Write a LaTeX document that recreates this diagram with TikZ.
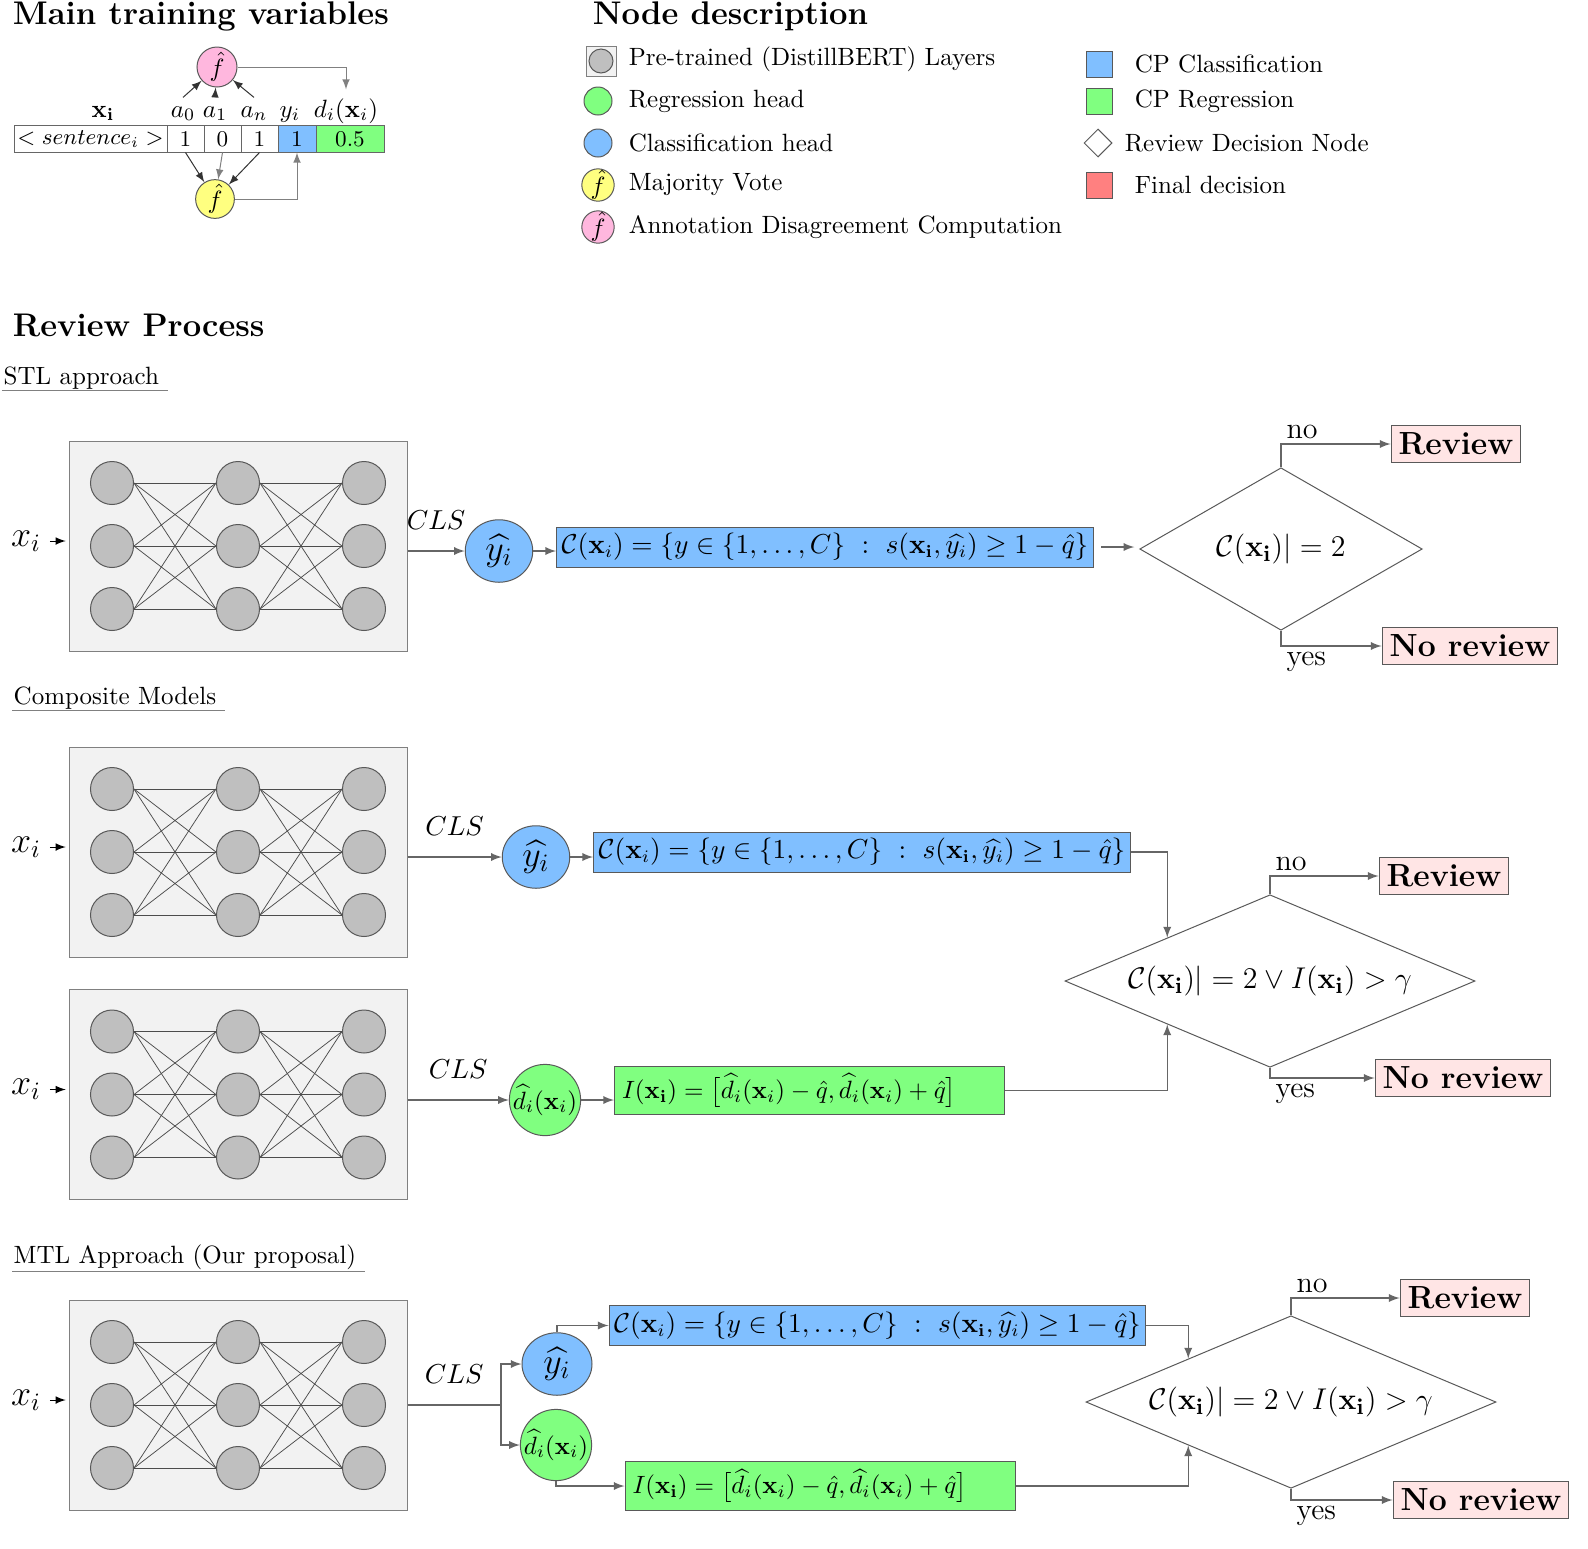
\documentclass[tikz,border=0pt]{standalone}
\usepackage{amsmath,amssymb}
\usetikzlibrary{shapes.geometric,arrows}

\definecolor{clsblue}{RGB}{128,191,255}
\definecolor{reggreen}{RGB}{128,255,128}
\definecolor{voteyellow}{RGB}{255,255,128}
\definecolor{disapink}{RGB}{255,183,222}
\definecolor{finalred}{RGB}{255,128,128}

% pre-trained layers: #1 name, #2 y of the centre
\newcommand{\bertlayers}[2]{%
	\node[netbox] (#1) at (238.5,#2) {};
	\foreach \c/\x in {1/112,2/238,3/364}
		\foreach \r/\dy in {1/-63,2/0,3/63}
			\node[neuron] (#1-\c-\r) at ({\x},{#2+(\dy)}) {};
	\foreach \i in {1,2,3}
		\foreach \j in {1,2,3} {
			\draw[link] (#1-1-\i.east) -- (#1-2-\j.west);
			\draw[link] (#1-2-\i.east) -- (#1-3-\j.west);
		}
	\node[font=\Large] (#1-in) at (26,#2-5) {$x_i$};
	\draw[->, shorten >=1.5pt] (#1-in.east) -- (#1-in.east -| #1.west);
}

\begin{document}
\begin{tikzpicture}[x=0.4pt, y=-0.4pt, >=latex,
	netbox/.style={draw=gray, fill=gray!10, minimum width=134.8pt, minimum height=84pt, inner sep=0pt},
	neuron/.style={circle, draw=gray!70!black, fill=gray!50, minimum size=17.2pt, inner sep=0pt},
	link/.style={black!70, line width=0.3pt},
	wire/.style={->, black!60, line width=0.5pt},
	cell/.style={draw=gray!80!black, minimum height=10.8pt, inner sep=0pt, outer sep=0pt, anchor=west, font=\small},
	clshead/.style={ellipse, draw=gray!70!black, fill=clsblue, minimum width=27pt, minimum height=25pt, inner sep=0pt, font=\Large},
	reghead/.style={circle, draw=gray!70!black, fill=reggreen, minimum size=28pt, inner sep=0pt},
	cpcls/.style={draw=gray!70!black, fill=clsblue, minimum width=206pt, minimum height=16pt, inner sep=2pt, font=\fontsize{10.5}{13}\selectfont},
	cpreg/.style={draw=gray!70!black, fill=reggreen, minimum height=18pt, inner sep=3pt, text width=150pt, align=left, font=\fontsize{10}{13}\selectfont},
	decision/.style={diamond, draw=gray!70!black, inner sep=0pt, font=\fontsize{12.8}{15}\selectfont},
	final/.style={draw=gray!70!black, fill=red!10, inner sep=3pt, font=\fontsize{12.8}{15}\selectfont\bfseries},
	answer/.style={text=black, inner sep=2pt, font=\large},
	clslabel/.style={text=black, midway, above=5pt, font=\fontsize{10.6}{13}\selectfont},
	section/.style={anchor=base west, font=\fontsize{13.1}{16}\selectfont\bfseries},
	subsection/.style={anchor=base west, inner sep=0.5pt}
]
\useasboundingbox (0,0) rectangle (1588,1548);

% main training variables
\node[section] (ttrain) at (4,24) {Main training variables};

\node[cell, minimum width=61.2pt] (sent) at (14,139) {$< sentence_i >$};
\node[cell, minimum width=14.8pt] (a0) at (sent.east) {1};
\node[cell, minimum width=14.8pt] (a1) at (a0.east) {0};
\node[cell, minimum width=14.8pt] (an) at (a1.east) {1};
\node[cell, minimum width=15.2pt, fill=clsblue] (ycell) at (an.east) {1};
\node[cell, minimum width=27.2pt, fill=reggreen] (dcell) at (ycell.east) {0.5};

\node[anchor=base] (lblx) at (103,117) {$\mathbf{x_i}$};
\node[anchor=base] (lbla0) at (183,117) {$a_0$};
\node[anchor=base] (lbla1) at (215,117) {$a_1$};
\node[anchor=base] (lblan) at (254,117) {$a_n$};
\node[anchor=base] (lbly) at (290,117) {$y_i$};
\node[anchor=base] (lbld) at (346,117) {$d_i(\mathbf{x}_i)$};

\node[circle, draw=gray!70!black, fill=disapink, minimum size=16pt, inner sep=0pt] (fpink) at (217,67) {$\hat{f}$};
\node[circle, draw=gray!70!black, fill=voteyellow, minimum size=15.5pt, inner sep=0pt] (fyellow) at (215,199) {$\hat{f}$};

\draw[->, black!80] (lbla0.north) -- (fpink);
\draw[->, black!80] (lbla1.north) -- (fpink);
\draw[->, black!80] (lblan.north) -- (fpink);
\draw[->, gray] (fpink.east) -| (lbld.north);

\draw[->, black!80] (a0.south) -- (fyellow);
\draw[->, gray] (a1.south) -- (fyellow);
\draw[->, black!80] (an.south) -- (fyellow);
\draw[->, gray] (fyellow.east) -| (ycell.south);

% node description
\node[section] (tnode) at (584,24) {Node description};

\node[netbox, minimum width=12pt, minimum height=12pt] (legnet) at (601,61) {};
\node[neuron, minimum size=9.6pt] (legneuron) at (legnet) {};
\node[circle, draw=gray!70!black, fill=reggreen, minimum size=11.2pt] (legreg) at (598,101) {};
\node[circle, draw=gray!70!black, fill=clsblue, minimum size=11.2pt] (legcls) at (598,143) {};
\node[circle, draw=gray!70!black, fill=voteyellow, minimum size=11.2pt, inner sep=0pt] (legvote) at (598,185) {$\hat{f}$};
\node[circle, draw=gray!70!black, fill=disapink, minimum size=11.2pt, inner sep=0pt] (legdis) at (598,227) {$\hat{f}$};

\node[anchor=west] (txtnet) at (620,59) {Pre-trained (DistillBERT) Layers};
\node[anchor=west] (txtreg) at (620,101) {Regression head};
\node[anchor=west] (txtcls) at (620,143) {Classification head};
\node[anchor=west] (txtvote) at (620,185) {Majority Vote};
\node[anchor=west] (txtdis) at (620,227) {Annotation Disagreement Computation};

\node[draw=gray!70!black, fill=clsblue, minimum size=10.4pt] (legcp) at (1099,64) {};
\node[draw=gray!70!black, fill=reggreen, minimum size=10.4pt] (legcpr) at (1099,101) {};
\node[diamond, draw=gray!70!black, minimum size=11.2pt, inner sep=0pt] (legdia) at (1098,143) {};
\node[draw=gray!70!black, fill=finalred, minimum size=10.4pt] (legfin) at (1099,185) {};

\node[anchor=west] (txtcp) at (1126,64) {CP Classification};
\node[anchor=west] (txtcpr) at (1126,101) {CP Regression};
\node[anchor=west] (txtdia) at (1116,143) {Review Decision Node};
\node[anchor=west] (txtfin) at (1126,185) {Final decision};

% review process
\node[section] (treview) at (4,336) {Review Process};

% STL approach
\node[subsection] (stl) at (2,384) {STL approach};
\draw[gray] (stl.south west) -- ([xshift=3pt]stl.south east);

\bertlayers{net1}{546}
\node[clshead] (yhat1) at (499,551) {$\widehat{y_i}$};
\node[cpcls] (cp1) at (825,547) {$\mathcal{C}(\mathbf{x}_i) = \{y \in \{1,\dots,C\}\ :\ s(\mathbf{x_i}, \widehat{y_i}) \geq 1 - \hat{q}\}$};
\node[decision, aspect=1.74, minimum width=113pt, minimum height=65pt] (dia1) at (1281,549) {$\mathcal{C}(\mathbf{x_i})| = 2$};
\node[final] (rev1) at (1456,444) {Review};
\node[final] (norev1) at (1470,646) {No review};

\draw[wire] (net1.east |- yhat1) -- (yhat1) node[clslabel] (cls1) {$CLS$};
\draw[wire] (yhat1.east) -- (yhat1.east -| cp1.west);
\draw[wire, shorten <=3pt, shorten >=2pt] (cp1.east) -- (cp1.east -| dia1.west);
\draw[wire] (dia1.north) |- (rev1.west) node[pos=0.5, anchor=south west, answer] (no1) {no};
\draw[wire] (dia1.south) |- (norev1.west) node[pos=0.5, anchor=north west, answer] (yes1) {yes};

% composite models
\node[subsection] (comp) at (12,704) {Composite Models};
\draw[gray] (comp.south west) -- ([xshift=3pt]comp.south east);

\bertlayers{net2}{852}
\node[clshead] (yhat2) at (536,857) {$\widehat{y_i}$};
\node[cpcls] (cp2) at (862,852) {$\mathcal{C}(\mathbf{x}_i) = \{y \in \{1,\dots,C\}\ :\ s(\mathbf{x_i}, \widehat{y_i}) \geq 1 - \hat{q}\}$};

\bertlayers{net3}{1094.5}
\node[reghead] (dhat3) at (545,1100) {$\widehat{d}_i(\mathbf{x}_i)$};
\node[cpreg] (ir3) at (809.5,1090.5) {$I(\mathbf{x_i}) = \big[\widehat{d}_i(\mathbf{x}_i) - \hat{q}, \widehat{d}_i(\mathbf{x}_i) + \hat{q}\big]$};

\node[decision, aspect=2.37, minimum width=164pt, minimum height=69pt] (dia2) at (1270,981) {$\mathcal{C}(\mathbf{x_i})| = 2 \vee I(\mathbf{x_i}) > \gamma$};
\node[final] (rev2) at (1444,876) {Review};
\node[final] (norev2) at (1463,1078) {No review};

\draw[wire] (net2.east |- yhat2) -- (yhat2) node[clslabel] (cls2) {$CLS$};
\draw[wire] (yhat2.east) -- (yhat2.east -| cp2.west);
\draw[wire] (cp2.east) -| (dia2.north west);
\draw[wire] (net3.east |- dhat3) -- (dhat3) node[clslabel] (cls3) {$CLS$};
\draw[wire] (dhat3.east) -- (dhat3.east -| ir3.west);
\draw[wire] (ir3.east) -| (dia2.south west);
\draw[wire] (dia2.north) |- (rev2.west) node[pos=0.5, anchor=south west, answer] (no2) {no};
\draw[wire] (dia2.south) |- (norev2.west) node[pos=0.5, anchor=north west, answer] (yes2) {yes};

% MTL approach
\node[subsection] (mtl) at (12,1263) {MTL Approach (Our proposal)};
\draw[gray] (mtl.south west) -- ([xshift=3pt]mtl.south east);

\bertlayers{net4}{1405}
\coordinate (split) at (501,1405);
\node[clshead, minimum width=28pt] (yhat4) at (557,1364) {$\widehat{y_i}$};
\node[reghead] (dhat4) at (556,1445) {$\widehat{d}_i(\mathbf{x}_i)$};
\node[cpcls] (cp4) at (877.5,1325.5) {$\mathcal{C}(\mathbf{x}_i) = \{y \in \{1,\dots,C\}\ :\ s(\mathbf{x_i}, \widehat{y_i}) \geq 1 - \hat{q}\}$};
\node[cpreg] (ir4) at (820,1486) {$I(\mathbf{x_i}) = \big[\widehat{d}_i(\mathbf{x}_i) - \hat{q}, \widehat{d}_i(\mathbf{x}_i) + \hat{q}\big]$};

\node[decision, aspect=2.37, minimum width=164pt, minimum height=69pt] (dia3) at (1291,1402) {$\mathcal{C}(\mathbf{x_i})| = 2 \vee I(\mathbf{x_i}) > \gamma$};
\node[final] (rev3) at (1465,1298) {Review};
\node[final] (norev3) at (1481,1500) {No review};

\draw[wire, -] (net4.east) -- (split) node[clslabel] (cls4) {$CLS$};
\draw[wire] (split) |- (yhat4);
\draw[wire] (split) |- (dhat4);
\draw[wire] (yhat4.north) |- (cp4.west);
\draw[wire] (dhat4.south) |- (ir4.west);
\draw[wire] (cp4.east) -| (dia3.north west);
\draw[wire] (ir4.east) -| (dia3.south west);
\draw[wire] (dia3.north) |- (rev3.west) node[pos=0.5, anchor=south west, answer] (no3) {no};
\draw[wire] (dia3.south) |- (norev3.west) node[pos=0.5, anchor=north west, answer] (yes3) {yes};

\end{tikzpicture}
\end{document}
